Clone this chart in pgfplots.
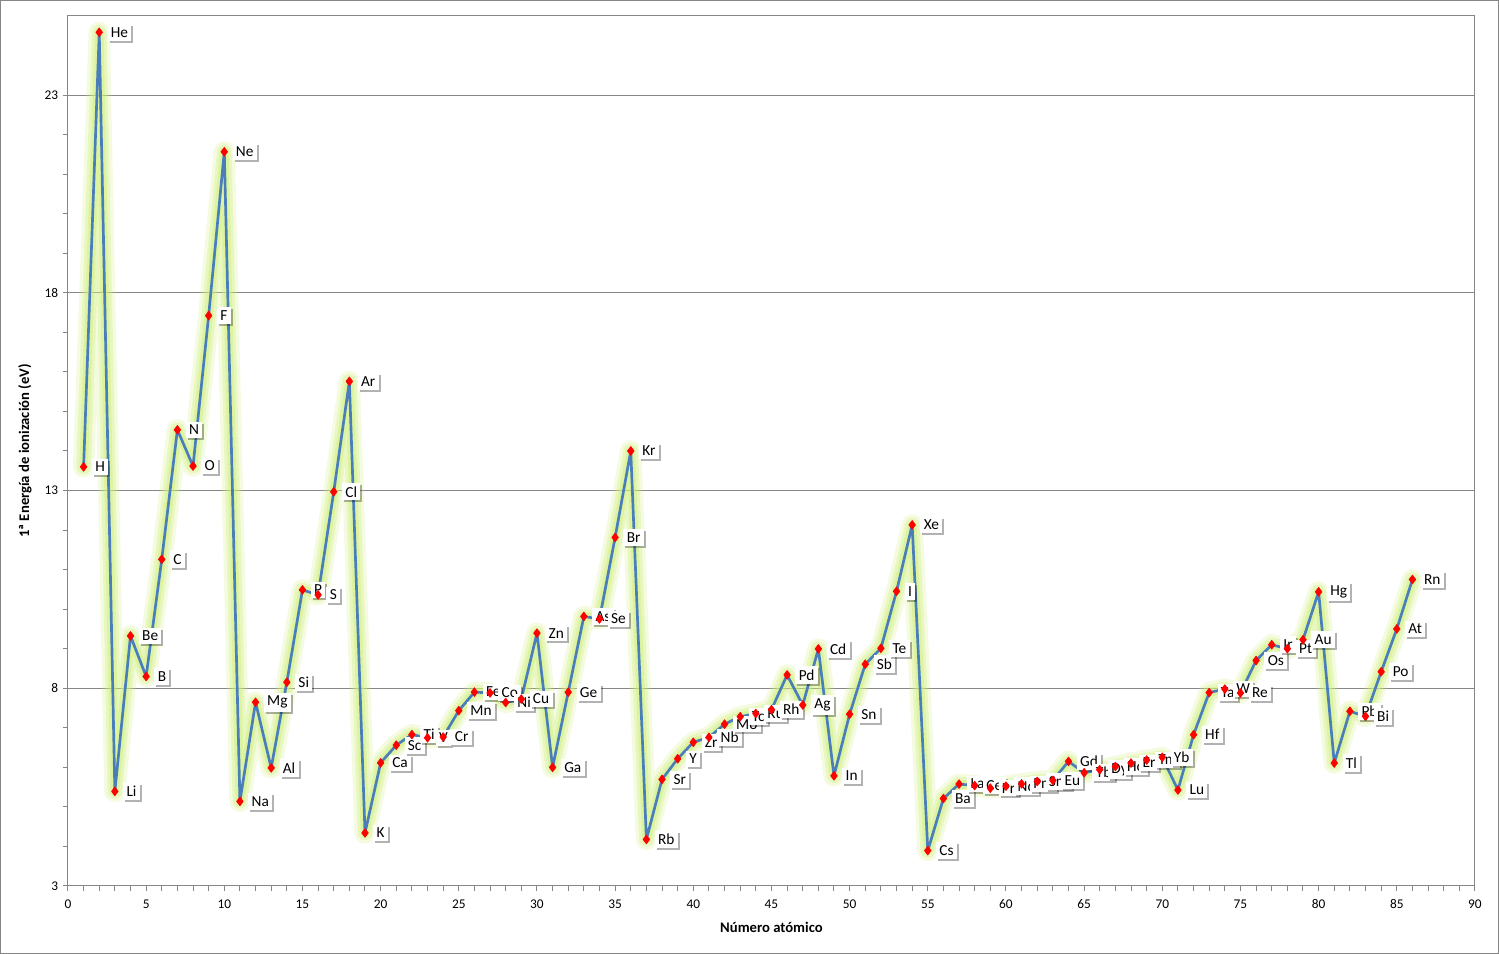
\documentclass[border=0pt]{standalone}
\usepackage{pgfplots}
\pgfplotsset{compat=1.18}
\usepackage{pgfplotstable}
\usepackage{fontspec}
\setmainfont{Carlito}
\usetikzlibrary{shadows}
\definecolor{linecol}{RGB}{74,126,187}
\definecolor{glowcol}{RGB}{205,238,120}
\definecolor{axcol}{RGB}{134,134,134}
\pgfplotstableread{
z y s
1 13.598 H
2 24.587 He
3 5.392 Li
4 9.323 Be
5 8.298 B
6 11.260 C
7 14.534 N
8 13.618 O
9 17.423 F
10 21.565 Ne
11 5.139 Na
12 7.646 Mg
13 5.986 Al
14 8.152 Si
15 10.487 P
16 10.360 S
17 12.968 Cl
18 15.760 Ar
19 4.341 K
20 6.113 Ca
21 6.561 Sc
22 6.828 Ti
23 6.746 V
24 6.767 Cr
25 7.434 Mn
26 7.902 Fe
27 7.881 Co
28 7.640 Ni
29 7.726 Cu
30 9.394 Zn
31 5.999 Ga
32 7.900 Ge
33 9.815 As
34 9.752 Se
35 11.814 Br
36 14.000 Kr
37 4.177 Rb
38 5.695 Sr
39 6.217 Y
40 6.634 Zr
41 6.759 Nb
42 7.092 Mo
43 7.28 Tc
44 7.361 Ru
45 7.459 Rh
46 8.337 Pd
47 7.576 Ag
48 8.994 Cd
49 5.786 In
50 7.344 Sn
51 8.608 Sb
52 9.010 Te
53 10.451 I
54 12.130 Xe
55 3.894 Cs
56 5.212 Ba
57 5.577 La
58 5.539 Ce
59 5.473 Pr
60 5.525 Nd
61 5.582 Pm
62 5.644 Sm
63 5.670 Eu
64 6.150 Gd
65 5.864 Tb
66 5.939 Dy
67 6.022 Ho
68 6.108 Er
69 6.184 Tm
70 6.254 Yb
71 5.426 Lu
72 6.825 Hf
73 7.89 Ta
74 7.98 W
75 7.88 Re
76 8.70 Os
77 9.10 Ir
78 9.00 Pt
79 9.226 Au
80 10.438 Hg
81 6.108 Tl
82 7.417 Pb
83 7.289 Bi
84 8.417 Po
85 9.50 At
86 10.749 Rn
}\ionizacion
\begin{document}
\begin{tikzpicture}
\draw[axcol, line width=0.75pt] (-50.6pt,-50.6pt) rectangle (1072.9pt,664.1pt);
\begin{axis}[
  at={(0,0)}, anchor=south west,
  scale only axis,
  width=1055.25pt, height=652.5pt,
  xmin=0, xmax=90, ymin=3, ymax=25,
  xtick={0,5,...,90}, ytick={3,8,13,18,23},
  minor x tick num=4, minor y tick num=4,
  tick align=outside, xtick pos=left, ytick pos=left,
  major tick length=3.8pt, minor tick length=3.8pt,
  every tick/.style={axcol, line width=0.75pt},
  axis line style={axcol, line width=0.75pt},
  ymajorgrids, grid style={axcol, line width=0.75pt},
  tick label style={font=\fontsize{10}{12}\selectfont},
  xticklabel style={yshift=-3pt},
  /pgf/number format/assume math mode=true,
  xlabel={\bfseries Número atómico},
  ylabel={\bfseries 1ª Energía de ionización (eV)},
  label style={font=\fontsize{11}{13}\selectfont},
  xlabel style={yshift=-3pt},
  ylabel style={yshift=3pt},
  clip=false,
]
\addplot[glowcol, opacity=0.22, line width=16pt, line join=round, line cap=round] table[x=z, y=y] {\ionizacion};
\addplot[glowcol, opacity=0.32, line width=11pt, line join=round, line cap=round] table[x=z, y=y] {\ionizacion};
\addplot[glowcol, opacity=0.45, line width=6.5pt, line join=round, line cap=round] table[x=z, y=y] {\ionizacion};
\addplot[
  linecol, line width=2pt, line join=round,
  mark=diamond*, mark size=3.3pt,
  mark options={red, fill=red, line width=0.5pt},
  point meta=explicit symbolic,
  nodes near coords,
  every node near coord/.style={anchor=west, xshift=6pt, yshift=0pt, fill=white, draw=none, inner sep=2.5pt,
    text=black, font=\fontsize{11.5}{13}\selectfont,
    drop shadow={shadow xshift=1.5pt, shadow yshift=-1.5pt, opacity=0.3, fill=black, draw=none}},
] table[x=z, y=y, meta=s] {\ionizacion};
\end{axis}
\end{tikzpicture}
\end{document}
